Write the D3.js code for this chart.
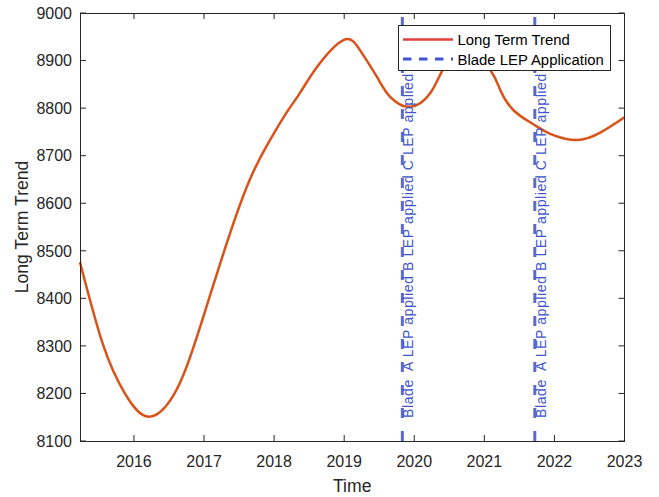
<!DOCTYPE html>
<html>
<head>
<meta charset="utf-8">
<script src="https://cdn.jsdelivr.net/npm/d3@7"></script>
<style>
	body { margin: 0; background: #fff; }
	text { font-family: "Liberation Sans", Arial, Helvetica, sans-serif; }
</style>
</head>
<body>
<div id="chart"></div>
<script>
// data
const trendYears = [2015.23, 2015.56, 2015.87, 2016.21, 2016.58, 2016.84, 2017.03, 2017.18, 2017.42, 2017.66, 2017.9,
	2018.18, 2018.37, 2018.61, 2018.99, 2019.23, 2019.47, 2019.66, 2019.95, 2020.23, 2020.4, 2020.72, 2021.09,
	2021.23, 2021.42, 2021.7, 2021.94, 2022.32, 2022.66, 2023.0];
const trendValues = [8476, 8302, 8200, 8151, 8200, 8293, 8380, 8450, 8558, 8652, 8722,
	8791, 8832, 8886, 8943, 8921, 8865, 8823, 8803, 8832, 8879, 8925, 8879,
	8837, 8795, 8766, 8746, 8733, 8749, 8781];
const lepYears = [2019.83, 2021.72];
const lepLabel = "Blade  A LEP applied B LEP applied C LEP applied";
const xTicks = [2016, 2017, 2018, 2019, 2020, 2021, 2022, 2023];
const yTicks = [8100, 8200, 8300, 8400, 8500, 8600, 8700, 8800, 8900, 9000];
const legendLabels = ["Long Term Trend", "Blade LEP Application"];

const chartW = 659;
const chartH = 497;
const plotLeft = 80, plotRight = 624.5, plotTop = 13, plotBottom = 441;
const axisColor = "#262626";
const trendColor = "#d95319";
const lepColor = "#5b6bd5";
const lepTextColor = "#4255cc";

const svg = d3.select("#chart").append("svg").attr("width", chartW).attr("height", chartH);

const x = d3.scaleLinear().domain([2015.23, 2023]).range([plotLeft, plotRight]);
const y = d3.scaleLinear().domain([8100, 9000]).range([plotBottom, plotTop]);

// trend curve
const trendLine = d3.line()
	.x((d) => x(d[0]))
	.y((d) => y(d[1]))
	.curve(d3.curveNatural);

svg.append("path")
	.datum(trendYears.map((t, i) => [t, trendValues[i]]))
	.attr("fill", "none")
	.attr("stroke", trendColor)
	.attr("stroke-width", 2.5)
	.attr("d", trendLine);

// LEP lines + labels
lepYears.forEach((yr) => {
	svg.append("line")
		.attr("x1", x(yr)).attr("x2", x(yr))
		.attr("y1", y(8100)).attr("y2", y(9000))
		.attr("stroke", lepColor)
		.attr("stroke-width", 3)
		.attr("stroke-dasharray", "10,13");
	svg.append("text")
		.attr("transform", `translate(${x(yr) + 11},${y(8100) - 23}) rotate(-90)`)
		.attr("fill", lepTextColor)
		.style("font-size", "14px")
		.style("letter-spacing", "0.6px")
		.style("white-space", "pre")
		.text(lepLabel);
});

// axes (box style, inward ticks)
const axisG = svg.append("g").attr("fill", "none").attr("stroke", axisColor).attr("stroke-width", 1);
axisG.append("rect")
	.attr("x", plotLeft).attr("y", plotTop)
	.attr("width", plotRight - plotLeft).attr("height", plotBottom - plotTop)
	.attr("shape-rendering", "crispEdges");

const tickLen = 6;
xTicks.forEach((t) => {
	axisG.append("line").attr("x1", x(t)).attr("x2", x(t)).attr("y1", plotBottom).attr("y2", plotBottom - tickLen);
	axisG.append("line").attr("x1", x(t)).attr("x2", x(t)).attr("y1", plotTop).attr("y2", plotTop + tickLen);
});
yTicks.forEach((t) => {
	axisG.append("line").attr("x1", plotLeft).attr("x2", plotLeft + tickLen).attr("y1", y(t)).attr("y2", y(t));
	axisG.append("line").attr("x1", plotRight).attr("x2", plotRight - tickLen).attr("y1", y(t)).attr("y2", y(t));
});

svg.selectAll(".xlab")
	.data(xTicks)
	.enter()
	.append("text")
	.attr("x", (d) => x(d))
	.attr("y", 467)
	.attr("text-anchor", "middle")
	.attr("fill", axisColor)
	.style("font-size", "16px")
	.text((d) => d);

svg.selectAll(".ylab")
	.data(yTicks)
	.enter()
	.append("text")
	.attr("x", 72)
	.attr("y", (d) => y(d) + 5.8)
	.attr("text-anchor", "end")
	.attr("fill", axisColor)
	.style("font-size", "16px")
	.text((d) => d);

svg.append("text")
	.attr("x", (plotLeft + plotRight) / 2)
	.attr("y", 492)
	.attr("text-anchor", "middle")
	.attr("fill", axisColor)
	.style("font-size", "17.6px")
	.text("Time");

svg.append("text")
	.attr("transform", `translate(28,${(plotTop + plotBottom) / 2}) rotate(-90)`)
	.attr("text-anchor", "middle")
	.attr("fill", axisColor)
	.style("font-size", "17.6px")
	.text("Long Term Trend");

// legend
const legend = svg.append("g");
legend.append("rect")
	.attr("x", 398.5).attr("y", 25.5)
	.attr("width", 212).attr("height", 44.5)
	.attr("fill", "#fff")
	.attr("stroke", axisColor)
	.attr("stroke-width", 1)
	.attr("shape-rendering", "crispEdges");
legend.append("line")
	.attr("x1", 403).attr("x2", 453).attr("y1", 39.5).attr("y2", 39.5)
	.attr("stroke", "#e2403c").attr("stroke-width", 2.5);
legend.append("line")
	.attr("x1", 403).attr("x2", 453).attr("y1", 59).attr("y2", 59)
	.attr("stroke", "#3f55d6").attr("stroke-width", 3)
	.attr("stroke-dasharray", "8.5,7.5");
legend.selectAll(".legtext")
	.data(legendLabels)
	.enter()
	.append("text")
	.attr("x", 457.5)
	.attr("y", (_d, i) => 44.8 + i * 19.8)
	.attr("fill", "#000")
	.style("font-size", "14.9px")
	.text((d) => d);
</script>
</body>
</html>
